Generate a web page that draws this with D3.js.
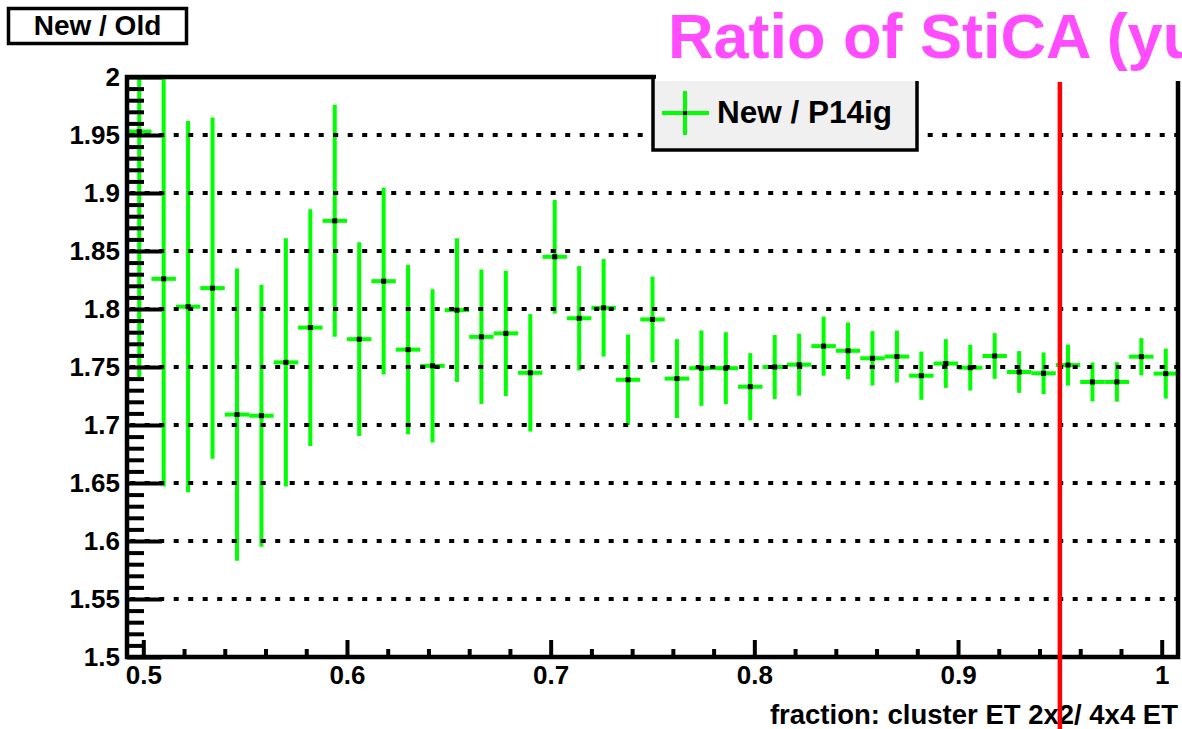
<!DOCTYPE html>
<html>
<head>
<meta charset="utf-8">
<script src="https://cdn.jsdelivr.net/npm/d3@7"></script>
<style>
  html, body { margin: 0; padding: 0; background: #fff; }
  svg { display: block; }
  text { font-family: "Liberation Sans", Arial, Helvetica, sans-serif; font-weight: bold; }
</style>
</head>
<body>
<svg id="chart" width="1182" height="729"></svg>
<script>
// ---- data ----
const binCenters = [0.498, 0.510, 0.522, 0.534, 0.546, 0.558, 0.570, 0.582, 0.594, 0.606,
                    0.618, 0.630, 0.642, 0.654, 0.666, 0.678, 0.690, 0.702, 0.714, 0.726,
                    0.738, 0.750, 0.762, 0.774, 0.786, 0.798, 0.810, 0.822, 0.834, 0.846,
                    0.858, 0.870, 0.882, 0.894, 0.906, 0.918, 0.930, 0.942, 0.954, 0.966,
                    0.978, 0.990, 1.002];
const ratioValues = [1.953, 1.826, 1.802, 1.818, 1.709, 1.708, 1.754, 1.784, 1.876, 1.774,
                     1.824, 1.765, 1.751, 1.799, 1.776, 1.779, 1.745, 1.845, 1.792, 1.801,
                     1.739, 1.791, 1.740, 1.749, 1.749, 1.733, 1.750, 1.752, 1.768, 1.764,
                     1.7575, 1.759, 1.7425, 1.753, 1.7494, 1.7595, 1.7457, 1.7446, 1.7517, 1.7371,
                     1.7371, 1.7589, 1.7443];
const ratioErrors = [0.212, 0.179, 0.160, 0.147, 0.126, 0.113, 0.107, 0.102, 0.100, 0.0835,
                     0.0805, 0.073, 0.066, 0.062, 0.058, 0.054, 0.0506, 0.049, 0.045, 0.042,
                     0.039, 0.037, 0.034, 0.0325, 0.031, 0.029, 0.0276, 0.0267, 0.0255, 0.0244,
                     0.0234, 0.0224, 0.0208, 0.021, 0.0197, 0.0197, 0.018, 0.018, 0.0177, 0.0168,
                     0.017, 0.016, 0.0215];
const binWidth = 0.012;
const xDomain = [0.492, 1.008];
const yDomain = [1.5, 2.0];
const xMajorTicks = [0.5, 0.6, 0.7, 0.8, 0.9, 1.0];
const xTickLabels = ["0.5", "0.6", "0.7", "0.8", "0.9", "1"];
const xMinorTicks = [0.52, 0.54, 0.56, 0.58, 0.62, 0.64, 0.66, 0.68, 0.72, 0.74, 0.76, 0.78,
                     0.82, 0.84, 0.86, 0.88, 0.92, 0.94, 0.96, 0.98];
const yMajorTicks = [1.5, 1.55, 1.6, 1.65, 1.7, 1.75, 1.8, 1.85, 1.9, 1.95, 2.0];
const yTickLabels = ["1.5", "1.55", "1.6", "1.65", "1.7", "1.75", "1.8", "1.85", "1.9", "1.95", "2"];
const yMinorTicks = [1.51, 1.52, 1.53, 1.54, 1.56, 1.57, 1.58, 1.59, 1.61, 1.62, 1.63, 1.64,
                     1.66, 1.67, 1.68, 1.69, 1.71, 1.72, 1.73, 1.74, 1.76, 1.77, 1.78, 1.79,
                     1.81, 1.82, 1.83, 1.84, 1.86, 1.87, 1.88, 1.89, 1.91, 1.92, 1.93, 1.94,
                     1.96, 1.97, 1.98, 1.99];
const gridValues = [1.55, 1.6, 1.65, 1.7, 1.75, 1.8, 1.85, 1.9, 1.95];
const cutValue = 0.95;
const titleText = "Ratio of StiCA (yu";
const boxLabel = "New / Old";
const legendLabel = "New / P14ig";
const xAxisTitle = "fraction: cluster ET 2x2/ 4x4 ET";

// ---- layout ----
const frame = { left: 127, right: 1178, top: 77, bottom: 657 };
const GREEN = "#00ff00";

const svg = d3.select("#chart");
const x = d3.scaleLinear().domain(xDomain).range([frame.left, frame.right]);
const y = d3.scaleLinear().domain(yDomain).range([frame.bottom, frame.top]);

svg.append("defs").append("clipPath").attr("id", "frameClip")
  .append("rect")
  .attr("x", frame.left).attr("y", frame.top)
  .attr("width", frame.right - frame.left).attr("height", frame.bottom - frame.top);

// ---- data marks ----
const pts = binCenters.map((c, i) => ({ x: c, v: ratioValues[i], e: ratioErrors[i] }));
const gData = svg.append("g").attr("clip-path", "url(#frameClip)");
gData.selectAll("line.vbar").data(pts).join("line")
  .attr("class", "vbar")
  .attr("x1", d => x(d.x)).attr("x2", d => x(d.x))
  .attr("y1", d => y(d.v + d.e)).attr("y2", d => y(d.v - d.e))
  .attr("stroke", GREEN).attr("stroke-width", 4);
gData.selectAll("line.hbar").data(pts).join("line")
  .attr("class", "hbar")
  .attr("x1", d => x(d.x - binWidth / 2)).attr("x2", d => x(d.x + binWidth / 2))
  .attr("y1", d => y(d.v)).attr("y2", d => y(d.v))
  .attr("stroke", GREEN).attr("stroke-width", 4);
gData.selectAll("rect.mk").data(pts).join("rect")
  .attr("class", "mk")
  .attr("x", d => x(d.x) - 2.5).attr("y", d => y(d.v) - 2.5)
  .attr("width", 5).attr("height", 5).attr("fill", "#000");

// ---- grid (dotted) ----
svg.append("g").selectAll("line").data(gridValues).join("line")
  .attr("x1", frame.left).attr("x2", frame.right)
  .attr("y1", d => y(d)).attr("y2", d => y(d))
  .attr("stroke", "#000").attr("stroke-width", 4)
  .attr("stroke-dasharray", "5,9.5").attr("stroke-dashoffset", 11.3);

// ---- axes ----
const yAxisMajor = d3.axisLeft(y).tickValues(yMajorTicks)
  .tickFormat((d, i) => yTickLabels[i]).tickSize(-35).tickPadding(7);
const yAxisMinor = d3.axisLeft(y).tickValues(yMinorTicks).tickFormat("").tickSize(-17);
const xAxisMajor = d3.axisBottom(x).tickValues(xMajorTicks)
  .tickFormat((d, i) => xTickLabels[i]).tickSize(-17).tickPadding(8.5);
const xAxisMinor = d3.axisBottom(x).tickValues(xMinorTicks).tickFormat("").tickSize(-8);

function styleAxis(g) {
  g.select(".domain").remove();
  g.selectAll(".tick line").attr("stroke", "#000").attr("stroke-width", 4);
  g.selectAll(".tick text").attr("fill", "#000").attr("font-size", 26)
    .attr("font-family", "'Liberation Sans', Arial, Helvetica, sans-serif").attr("font-weight", "bold");
}
svg.append("g").attr("transform", `translate(${frame.left},0)`).call(yAxisMinor).call(styleAxis);
svg.append("g").attr("transform", `translate(${frame.left},0)`).call(yAxisMajor).call(styleAxis);
svg.append("g").attr("transform", `translate(0,${frame.bottom})`).call(xAxisMinor).call(styleAxis);
svg.append("g").attr("transform", `translate(0,${frame.bottom})`).call(xAxisMajor).call(styleAxis);

// frame
svg.append("rect")
  .attr("x", frame.left).attr("y", frame.top)
  .attr("width", frame.right - frame.left).attr("height", frame.bottom - frame.top)
  .attr("fill", "none").attr("stroke", "#000").attr("stroke-width", 4.5);

// x axis title
svg.append("text").attr("x", 1178).attr("y", 724).attr("text-anchor", "end")
  .attr("font-size", 27.5).attr("fill", "#000").text(xAxisTitle);

// ---- legend ----
const lg = svg.append("g");
lg.append("rect").attr("x", 653).attr("y", 77).attr("width", 264).attr("height", 73)
  .attr("fill", "#f0f0f0").attr("stroke", "#000").attr("stroke-width", 3.5);
lg.append("line").attr("x1", 662).attr("x2", 709).attr("y1", 113).attr("y2", 113)
  .attr("stroke", GREEN).attr("stroke-width", 4);
lg.append("line").attr("x1", 685).attr("x2", 685).attr("y1", 91).attr("y2", 135)
  .attr("stroke", GREEN).attr("stroke-width", 4);
lg.append("rect").attr("x", 683).attr("y", 111).attr("width", 4).attr("height", 4).attr("fill", "#000");
lg.append("text").attr("x", 717).attr("y", 123).attr("font-size", 31.5).attr("fill", "#000").text(legendLabel);

// ---- title pave ----
svg.append("rect").attr("x", 656).attr("y", 0).attr("width", 1182 - 656).attr("height", 81).attr("fill", "#fff");
svg.append("text").attr("x", 668).attr("y", 58).attr("font-size", 63).attr("fill", "#ff4cff").text(titleText);

// ---- New / Old box ----
svg.append("rect").attr("x", 8.5).attr("y", 8.5).attr("width", 178).attr("height", 35)
  .attr("fill", "#fff").attr("stroke", "#000").attr("stroke-width", 3.5);
svg.append("text").attr("x", 97.5).attr("y", 35).attr("text-anchor", "middle")
  .attr("font-size", 28).attr("fill", "#000").text(boxLabel);

// ---- cut line ----
svg.append("line").attr("x1", x(cutValue)).attr("x2", x(cutValue)).attr("y1", 82).attr("y2", 729)
  .attr("stroke", "#ff0000").attr("stroke-width", 4.5);
</script>
</body>
</html>
